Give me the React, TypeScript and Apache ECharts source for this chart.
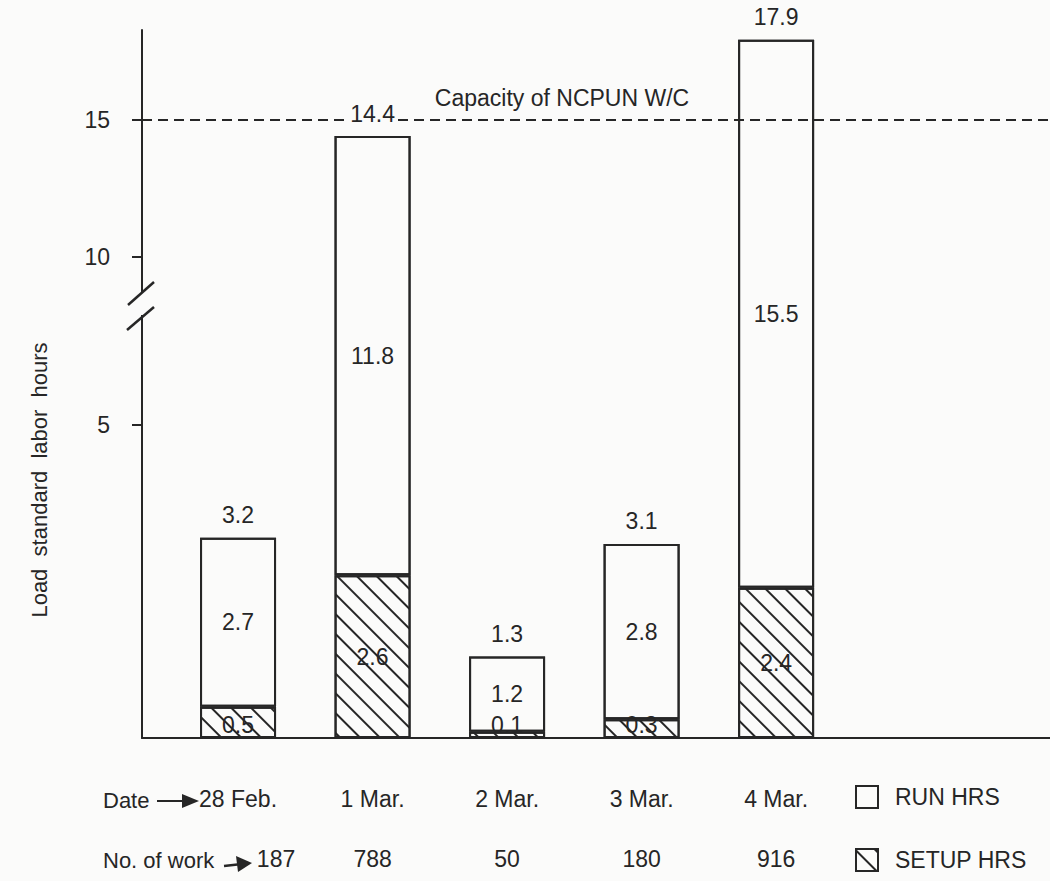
import React, { useEffect, useRef } from 'react';
import * as echarts from 'echarts';

// ---------- data ----------
const dates = ['28 Feb.', '1 Mar.', '2 Mar.', '3 Mar.', '4 Mar.'];
const workCounts = [187, 788, 50, 180, 916];
const setupHrs = [0.5, 2.6, 0.1, 0.3, 2.4];
const runHrs = [2.7, 11.8, 1.2, 2.8, 15.5];
const totalHrs = [3.2, 14.4, 1.3, 3.1, 17.9];
const yTickValues = [5, 10, 15];
const capacityHrs = 15;
const capacityLabel = 'Capacity of NCPUN W/C';
const yAxisTitle = 'Load  standard  labor  hours';

// ---------- broken-axis scale (hours -> display units) ----------
const LOW_END = 5;
const HIGH_START = 10;
const LOW_SCALE = 62.6;
const HIGH_BASE = 481;
const HIGH_SCALE = 27.5;
function brk(v: number): number {
  if (v <= LOW_END) return v * LOW_SCALE;
  if (v >= HIGH_START) return HIGH_BASE + (v - HIGH_START) * HIGH_SCALE;
  const lo = LOW_END * LOW_SCALE;
  return lo + ((v - LOW_END) / (HIGH_START - LOW_END)) * (HIGH_BASE - lo);
}

const INK = '#262626';
const BG = '#fbfbfa';
const FONT = '"Liberation Sans", Arial, Helvetica, sans-serif';
const FS = 23;
const SMALL_SEGMENT = 32; // segments thinner than this get their label at the bottom

const GRID_TOP = 30;
const GRID_BOTTOM_Y = 738;
const H = 881;
const X_MIN = -0.714;
const X_MAX = 6.036;

export default function App() {
  const ref = useRef<HTMLDivElement>(null);
  useEffect(() => {
    if (!ref.current) return;
    const chart = echarts.init(ref.current, null, { renderer: 'svg' });
    const tickPos = yTickValues.map(brk);
    const hatch = {
      symbol: 'rect',
      symbolSize: 1,
      symbolKeepAspect: false,
      color: INK,
      backgroundColor: BG,
      dashArrayX: [1, 0],
      dashArrayY: [2, 12],
      rotation: Math.PI / 4,
    };
    const legendCommon = {
      orient: 'horizontal',
      left: 850,
      itemWidth: 22,
      itemHeight: 22,
      icon: 'rect',
      selectedMode: false,
      textStyle: { fontSize: FS, color: INK, fontFamily: FONT, padding: [0, 0, 0, 12] },
    };
    const option: any = {
      animation: false,
      backgroundColor: BG,
      aria: {
        enabled: true,
        label: { enabled: false },
        decal: { show: true, decals: [{ color: 'rgba(0,0,0,0)', backgroundColor: 'rgba(0,0,0,0)', dashArrayX: [1, 0], dashArrayY: [1, 0] }] },
      },
      textStyle: { fontFamily: FONT, color: INK },
      grid: { left: 142, right: 0, top: GRID_TOP, bottom: H - GRID_BOTTOM_Y },
      legend: [
        { ...legendCommon, data: ['RUN HRS'], top: 780 },
        { ...legendCommon, data: ['SETUP HRS'], top: 843 },
      ],
      xAxis: [
        {
          type: 'value',
          min: X_MIN,
          max: X_MAX,
          splitLine: { show: false },
          axisLine: { show: true, onZero: false, lineStyle: { color: INK, width: 2 } },
          axisTick: { show: false },
          axisLabel: {
            customValues: dates.map((_, i) => i),
            formatter: (v: number) => dates[Math.round(v)] ?? '',
            margin: 49,
            fontSize: FS,
            color: INK,
            fontFamily: FONT,
          },
        },
        {
          type: 'value',
          min: X_MIN,
          max: X_MAX,
          position: 'bottom',
          splitLine: { show: false },
          axisLine: { show: false, onZero: false },
          axisTick: { show: false },
          axisLabel: {
            customValues: workCounts.map((_, i) => i),
            formatter: (v: number) => {
              const i = Math.round(v);
              return i === 0 ? `{shift|${workCounts[i]}}` : String(workCounts[i] ?? '');
            },
            rich: { shift: { padding: [0, 0, 0, 76], fontSize: FS, color: INK, fontFamily: FONT } },
            margin: 109,
            fontSize: FS,
            color: INK,
            fontFamily: FONT,
          },
        },
      ],
      yAxis: {
        type: 'value',
        min: 0,
        max: GRID_BOTTOM_Y - GRID_TOP,
        splitLine: { show: false },
        axisLine: { show: true, onZero: false, lineStyle: { color: INK, width: 2 } },
        axisTick: { show: true, customValues: tickPos, length: 10, lineStyle: { color: INK, width: 2 } },
        axisLabel: {
          customValues: tickPos,
          formatter: (v: number) => {
            const k = tickPos.findIndex((p) => Math.abs(p - v) < 0.5);
            return k >= 0 ? String(yTickValues[k]) : '';
          },
          margin: 32,
          fontSize: FS,
          color: INK,
          fontFamily: FONT,
        },
        name: yAxisTitle,
        nameLocation: 'middle',
        nameRotate: 90,
        nameGap: 92,
        nameTextStyle: { fontSize: 22, color: INK, fontFamily: FONT, padding: [0, 192, 0, 0] },
      },
      series: [
        {
          name: 'SETUP HRS',
          type: 'bar',
          stack: 'load',
          barWidth: 76,
          encode: { x: 1, y: 0 },
          data: setupHrs.map((v, i) => {
            const item: any = { value: [brk(v), i] };
            if (brk(v) < SMALL_SEGMENT) item.label = { position: 'insideBottom', distance: 2 };
            return item;
          }),
          itemStyle: { color: BG, borderColor: INK, borderWidth: 2, decal: hatch },
          label: {
            show: true,
            position: 'inside',
            formatter: (p: any) => String(setupHrs[p.dataIndex]),
            fontSize: FS,
            color: INK,
            fontFamily: FONT,
            textBorderWidth: 0,
          },
        },
        {
          name: 'RUN HRS',
          type: 'bar',
          stack: 'load',
          barWidth: 76,
          encode: { x: 1, y: 0 },
          data: totalHrs.map((t, i) => [brk(t) - brk(setupHrs[i]), i]),
          itemStyle: { color: BG, borderColor: INK, borderWidth: 2 },
          label: {
            show: true,
            position: 'inside',
            formatter: (p: any) => String(runHrs[p.dataIndex]),
            fontSize: FS,
            color: INK,
            fontFamily: FONT,
            textBorderWidth: 0,
          },
          markLine: {
            silent: true,
            symbol: 'none',
            lineStyle: { type: [10, 6], color: INK, width: 2 },
            label: {
              show: true,
              position: 'insideMiddleTop',
              formatter: capacityLabel,
              fontSize: FS,
              color: INK,
              fontFamily: FONT,
              padding: [0, 68, 0, 0],
              distance: 10,
            },
            data: [{ yAxis: brk(capacityHrs) }],
          },
        },
        {
          name: 'TOTAL',
          type: 'scatter',
          symbolSize: 0,
          z: 10,
          itemStyle: { opacity: 1, color: INK },
          data: totalHrs.map((t, i) => [i, brk(t)]),
          label: {
            show: true,
            position: 'top',
            distance: 10,
            formatter: (p: any) => String(totalHrs[p.dataIndex]),
            fontSize: FS,
            color: INK,
            opacity: 1,
            fontFamily: FONT,
            backgroundColor: BG,
            padding: [1, 3],
          },
        },
      ],
      graphic: [
        // axis break
        { type: 'rect', shape: { x: 136, y: 293, width: 14, height: 22 }, style: { fill: BG }, z: 100 },
        { type: 'line', shape: { x1: 128, y1: 305, x2: 154, y2: 282 }, style: { stroke: INK, lineWidth: 2.5 }, z: 101 },
        { type: 'line', shape: { x1: 127, y1: 330, x2: 154, y2: 307 }, style: { stroke: INK, lineWidth: 2.5 }, z: 101 },
        // row headers
        { type: 'text', x: 103, y: 800, style: { text: 'Date', font: `22px ${FONT}`, fill: INK, verticalAlign: 'middle' } },
        { type: 'line', shape: { x1: 157, y1: 801, x2: 186, y2: 801 }, style: { stroke: INK, lineWidth: 2 } },
        { type: 'polygon', shape: { points: [[182, 794], [199, 801], [182, 808]] }, style: { fill: INK } },
        { type: 'text', x: 103, y: 860, style: { text: 'No. of work', font: `22px ${FONT}`, fill: INK, verticalAlign: 'middle' } },
        { type: 'line', shape: { x1: 224, y1: 866, x2: 242, y2: 864 }, style: { stroke: INK, lineWidth: 2.5 } },
        { type: 'polygon', shape: { points: [[236, 856], [252, 863], [238, 872]] }, style: { fill: INK } },
      ],
    };
    chart.setOption(option);
    return () => chart.dispose();
  }, []);
  return (
    <div
      ref={ref}
      style={{ position: 'fixed', left: 0, top: 0, width: 1050, height: 881 }}
    />
  );
}
